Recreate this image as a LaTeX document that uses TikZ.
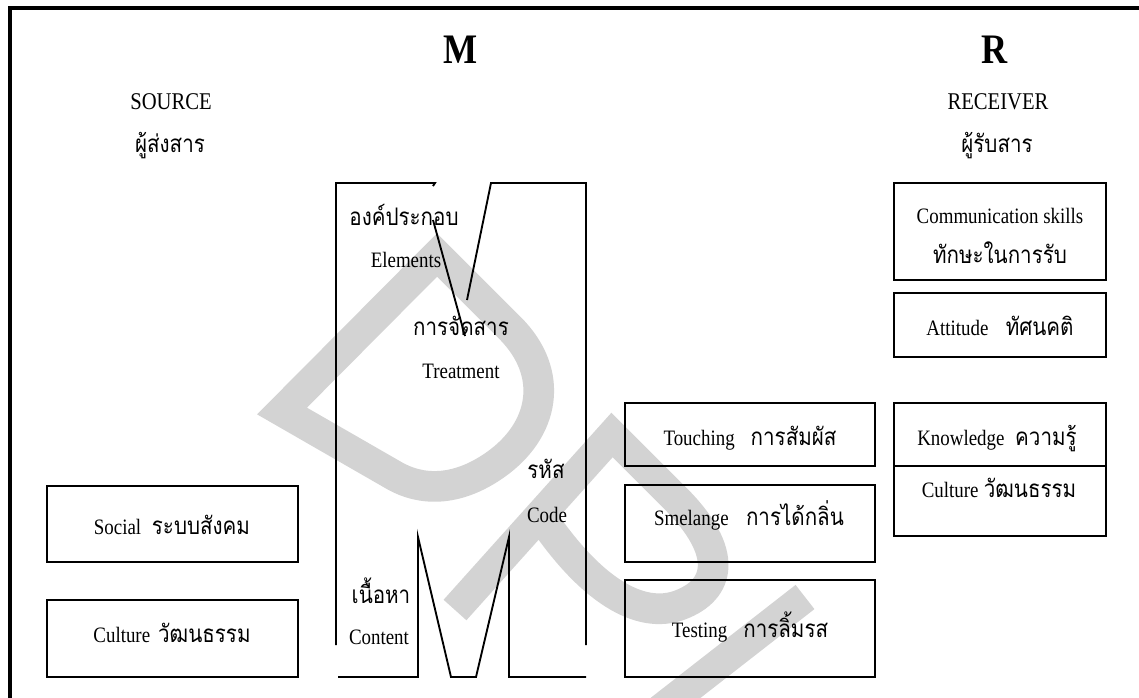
\documentclass[tikz,border=0pt]{standalone}
\usepackage{fontspec}
\setmainfont{Liberation Serif}[FakeStretch=0.86]
\newfontfamily\thaifont[Script=Thai,Scale=1.1,FakeStretch=0.85]{Loma}
\definecolor{wmgray}{RGB}{211,211,211}
\begin{document}
\begin{tikzpicture}[
        x=0.75pt, y=-0.75pt,
        font=\fontsize{16.5}{20}\selectfont,
        line width=1.4pt
    ]
    \tikzset{
        mybox/.style = {rectangle, draw=black, line width=1.6pt, inner sep=0pt},
        mytext/.style = {anchor=base, inner sep=0pt},
        myhead/.style = {mytext, font=\fontsize{18}{22}\selectfont},
        mybig/.style = {mytext, font=\fontsize{31.5}{36}\selectfont\bfseries},
        wmark/.style = {draw=wmgray, line width=23pt},
    }
    \useasboundingbox (0,0) rectangle (1139,697);
    % watermark
    \draw[wmark] (282,411) -- (437,255) -- (510,328)
        .. controls (555,373) and (545,430) .. (495,465)
        .. controls (455,493) and (420,490) .. (395,476) -- cycle;
    \draw[wmark] (455,610) -- (612,435) -- (675,498)
        .. controls (730,553) and (720,590) .. (680,605)
        .. controls (640,620) and (590,590) .. (540,515);
    \draw[wmark] (660,710) -- (805,597);
    % frame
    \draw[line width=3pt] (10,700) -- (10,8) -- (1142,8);
    %
    \node[mybig] (m) at (461,63) {M};
    \node[mybig] (r) at (995,63) {R};
    \node[myhead] (src) at (171,109) {SOURCE};
    \node[mytext] (srcth) at (170,152) {\thaifont ผู้ส่งสาร};
    \node[myhead] (rcv) at (998,109) {RECEIVER};
    \node[mytext] (rcvth) at (997,152) {\thaifont ผู้รับสาร};
    %
    \draw (336,645) -- (336,183) -- (435,183) -- (433,186);
    \draw (467,300) -- (491,183) -- (586,183) -- (586,645);
    \draw (338,677) -- (418,677) -- (418,537) -- (451,677) -- (476,677)
        -- (509,537) -- (509,677) -- (586,677);
    \draw (433,220) -- (465,336);
    %
    \node[mytext] (elemth) at (404,225) {\thaifont องค์ประกอบ};
    \node[mytext] (elem) at (406,267) {Elements};
    \node[mytext] (treatth) at (461,335) {\thaifont การจัดสาร};
    \node[mytext] (treat) at (461,378) {Treatment};
    \node[mytext] (codeth) at (546,478) {\thaifont รหัส};
    \node[mytext] (code) at (547,522) {Code};
    \node[mytext] (contth) at (381,603) {\thaifont เนื้อหา};
    \node[mytext] (cont) at (379,644) {Content};
    %
    \node[mybox, minimum width=188.25pt, minimum height=57pt] (social) at (172.5,524) {};
    \node[mybox, minimum width=188.25pt, minimum height=57.75pt] (cultl) at (172.5,638.5) {};
    \node[mytext] at (172,534) {Social\hspace{8pt}{\thaifont ระบบสังคม}};
    \node[mytext] at (172,642) {Culture\hspace{6pt}{\thaifont วัฒนธรรม}};
    %
    \node[mybox, minimum width=187.5pt, minimum height=47.25pt] (touch) at (750,434.5) {};
    \node[mybox, minimum width=187.5pt, minimum height=57.75pt] (smell) at (750,523.5) {};
    \node[mybox, minimum width=187.5pt, minimum height=72.75pt] (taste) at (750,628.5) {};
    \node[mytext] at (750,445) {Touching\hspace{12pt}{\thaifont การสัมผัส}};
    \node[mytext] at (749,525) {Smelange\hspace{13pt}{\thaifont การได้กลิ่น}};
    \node[mytext] at (750,637) {Testing\hspace{12pt}{\thaifont การลิ้มรส}};
    %
    \node[mybox, minimum width=159pt, minimum height=72.75pt] (comm) at (1000,231.5) {};
    \node[mybox, minimum width=159pt, minimum height=48pt] (att) at (1000,325) {};
    \node[mybox, minimum width=159pt, minimum height=47.25pt] (know) at (1000,434.5) {};
    \node[mybox, minimum width=159pt, minimum height=52.5pt] (cultr) at (1000,501) {};
    \node[mytext] at (1000,223) {Communication skills};
    \node[mytext] at (1000,263) {\thaifont ทักษะในการรับ};
    \node[mytext] at (1000,335) {Attitude\hspace{13pt}{\thaifont ทัศนคติ}};
    \node[mytext] at (997,445) {Knowledge\hspace{8pt}{\thaifont ความรู้}};
    \node[mytext] at (999,497) {Culture\hspace{4pt}{\thaifont วัฒนธรรม}};
\end{tikzpicture}
\end{document}
